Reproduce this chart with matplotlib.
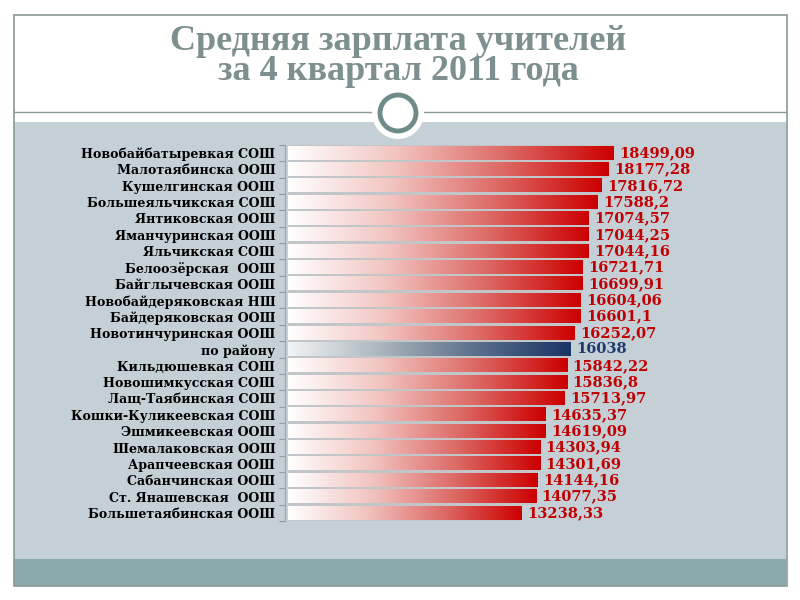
import numpy as np
import matplotlib
matplotlib.use("Agg")
import matplotlib.pyplot as plt
from matplotlib.colors import LinearSegmentedColormap
from matplotlib.patches import Rectangle, Circle

title_lines = ["Средняя зарплата учителей", "за 4 квартал 2011 года"]

schools = [
    "Новобайбатыревкая СОШ",
    "Малотаябинска ООШ",
    "Кушелгинская ООШ",
    "Большеяльчикская СОШ",
    "Янтиковская ООШ",
    "Яманчуринская ООШ",
    "Яльчикская СОШ",
    "Белоозёрская  ООШ",
    "Байглычевская ООШ",
    "Новобайдеряковская НШ",
    "Байдеряковская ООШ",
    "Новотинчуринская ООШ",
    "по району",
    "Кильдюшевкая СОШ",
    "Новошимкусская СОШ",
    "Лащ-Таябинская СОШ",
    "Кошки-Куликеевская СОШ",
    "Эшмикеевская ООШ",
    "Шемалаковская ООШ",
    "Арапчеевская ООШ",
    "Сабанчинская ООШ",
    "Ст. Янашевская  ООШ",
    "Большетаябинская ООШ",
]

salaries = [18499.09, 18177.28, 17816.72, 17588.2, 17074.57, 17044.25,
            17044.16, 16721.71, 16699.91, 16604.06, 16601.1, 16252.07,
            16038, 15842.22, 15836.8, 15713.97, 14635.37, 14619.09,
            14303.94, 14301.69, 14144.16, 14077.35, 13238.33]

value_labels = ["18499,09", "18177,28", "17816,72", "17588,2", "17074,57",
                "17044,25", "17044,16", "16721,71", "16699,91", "16604,06",
                "16601,1", "16252,07", "16038", "15842,22", "15836,8",
                "15713,97", "14635,37", "14619,09", "14303,94", "14301,69",
                "14144,16", "14077,35", "13238,33"]

highlight = "по району"

fig = plt.figure(figsize=(8, 6), dpi=100)
fig.patch.set_facecolor("white")

# slide background in pixel coordinates
bg = fig.add_axes([0, 0, 1, 1])
bg.set_xlim(0, 800)
bg.set_ylim(600, 0)
bg.axis("off")
bg.add_patch(Rectangle((14, 122), 772, 437, facecolor="#c5cfd6", edgecolor="none"))
bg.add_patch(Rectangle((14, 559), 772, 27, facecolor="#8aabab", edgecolor="none"))
bg.add_patch(Rectangle((13.5, 14.5), 773, 571, facecolor="none", edgecolor="#8a9898", lw=1.2))
bg.plot([14, 786], [112, 112], color="#8a9898", lw=1.0)
bg.add_patch(Circle((398, 113), 26, facecolor="white", edgecolor="none", zorder=3))
bg.add_patch(Circle((398, 113), 18, facecolor="white", edgecolor="#6f8c8a", lw=3.5, zorder=4))
for yy, line in zip([41, 72], title_lines):
    bg.text(398, yy, line, ha="center", va="center", fontsize=26, color="#7d8f8f",
            family="Liberation Serif", fontweight="bold")

# chart axes
top_px, bot_px = 144.8, 521.2
ax = fig.add_axes([285 / 800, 1 - bot_px / 600, 400 / 800, (bot_px - top_px) / 600])
ax.set_facecolor("none")
n = len(schools)
ypos = np.arange(n)

red_cmap = LinearSegmentedColormap.from_list("r", ["#ffffff", "#f2c4c0", "#dd6a66", "#cc0000"])
blue_cmap = LinearSegmentedColormap.from_list("b", ["#f2f4f6", "#aab4bc", "#5a6f8a", "#1a3466"])
grad = np.linspace(0, 1, 256).reshape(1, -1)
h = 0.8
for y, v, name in zip(ypos, salaries, schools):
    cm = blue_cmap if name == highlight else red_cmap
    ax.add_patch(Rectangle((0, y - 0.5), v, 1.0, facecolor="#c2c6c8", edgecolor="none", zorder=1))
    ax.imshow(grad, cmap=cm, extent=[0, v, y + h / 2, y - h / 2], aspect="auto",
              interpolation="bilinear", zorder=2)
for y, v, lab, name in zip(ypos, salaries, value_labels, schools):
    col = "#1f3a6e" if name == highlight else "#c00000"
    ax.annotate(lab, (v, y), xytext=(4, 0), textcoords="offset points", ha="left",
                va="center", fontsize=10.5, color=col, family="DejaVu Serif",
                fontweight="bold")
ax.set_ylim(n - 0.5, -0.5)
ax.set_xlim(-170, 22530)

ax.set_yticks(ypos)
ax.set_yticklabels(schools, family="DejaVu Serif", fontweight="bold", fontsize=9.1, color="black")
ax.tick_params(axis="y", which="major", length=0, pad=7)
ax.set_yticks(np.arange(-0.5, n, 1.0), minor=True)
ax.tick_params(axis="y", which="minor", length=4, color="#8f9aa0", width=0.8)
ax.set_xticks([])
for s in ["top", "right", "bottom"]:
    ax.spines[s].set_visible(False)
ax.spines["left"].set_color("#9aa4a8")
ax.spines["left"].set_linewidth(0.8)

fig.savefig("out.png", dpi=100, facecolor="white")
